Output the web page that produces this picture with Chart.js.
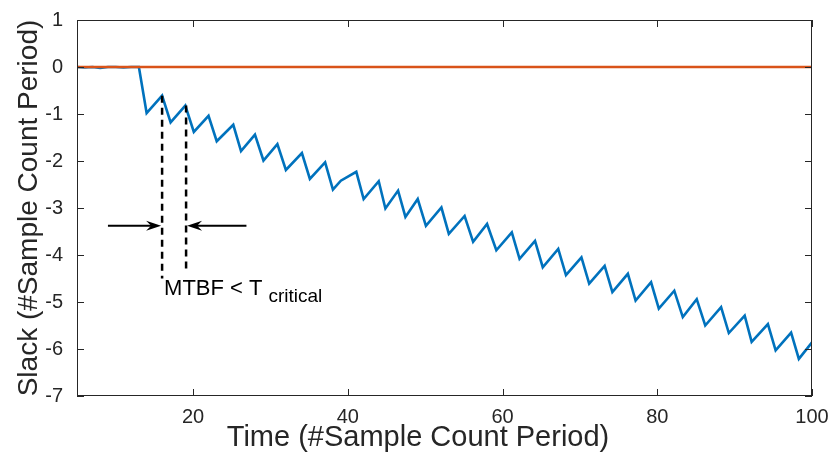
<!DOCTYPE html>
<html>
<head>
<meta charset="utf-8">
<script src="https://cdn.jsdelivr.net/npm/chart.js@4.4.1/dist/chart.umd.min.js"></script>
<style>
  html, body { margin: 0; padding: 0; background: #fff; }
</style>
</head>
<body>
<canvas id="slackChart" width="831" height="461"></canvas>
<script>
// datos
const TIME = [5, 6, 7, 8, 9, 10, 11, 12, 13,
  14, 16, 17.1, 19, 20.1, 22, 23.06, 25.2, 26.2, 28, 29.1, 30.9, 32, 34.07, 35.1,
  37.07, 38.08, 39.1, 41.1, 42.05, 44, 44.86, 46.5, 47.45, 49.04, 50.1, 52.1, 53.06,
  55.1, 56.2, 58, 59.2, 61.2, 62.2, 64.2, 65.2, 67.2, 68.2, 70.2, 71.2, 73.2, 74.2,
  76.2, 77.2, 79.2, 80.2, 82.2, 83.3, 85.1, 86.2, 88.25, 89.25, 91.3, 92.2, 94.3,
  95.3, 97.3, 98.3, 100];
const SLACK = [0, -0.01, 0, -0.02, 0, 0, -0.01, 0, 0,
  -0.98, -0.61, -1.18, -0.82, -1.38, -1.04, -1.58, -1.23, -1.79, -1.44, -1.99, -1.64, -2.19, -1.83, -2.38,
  -2.03, -2.61, -2.42, -2.23, -2.81, -2.43, -3.01, -2.63, -3.19, -2.81, -3.38, -2.99, -3.55,
  -3.17, -3.72, -3.34, -3.9, -3.52, -4.08, -3.70, -4.26, -3.87, -4.43, -4.05, -4.61, -4.23, -4.79,
  -4.40, -4.97, -4.58, -5.14, -4.76, -5.32, -4.94, -5.50, -5.11, -5.66, -5.29, -5.85, -5.47,
  -6.03, -5.65, -6.21, -5.86];
const REF_TIME  = [5, 100];
const REF_SLACK = [0, 0];

const X_TICKS = [20, 40, 60, 80, 100];
const Y_TICKS = [1, 0, -1, -2, -3, -4, -5, -6, -7];
const X_TITLE = 'Time (#Sample Count Period)';
const Y_TITLE = 'Slack (#Sample Count Period)';

// anotación MTBF
const MARK_X      = [16, 19.1];
const MARK_TOP    = [-0.61, -0.82];
const MARK_BOTTOM = [-4.5, -4.38];
const ARROW_Y     = -3.38;
const ARROW_START = [9, 26.9];

const AXIS_COLOR = '#262626';
const FONT = '"Liberation Sans", Arial, Helvetica, sans-serif';

const toPoints = (xs, ys) => xs.map((x, i) => ({ x, y: ys[i] }));

// caja, ticks hacia dentro, título X y anotaciones
const decor = {
  id: 'decor',
  afterDraw(chart) {
    const { ctx, chartArea: a, scales: { x, y } } = chart;
    ctx.save();
    ctx.strokeStyle = AXIS_COLOR;
    ctx.lineWidth = 1;
    ctx.strokeRect(a.left + 0.5, a.top + 0.5, a.right - a.left - 1, a.bottom - a.top - 1);
    ctx.beginPath();
    X_TICKS.forEach(v => {
      const px = Math.round(x.getPixelForValue(v)) + 0.5;
      ctx.moveTo(px, a.bottom); ctx.lineTo(px, a.bottom - 7);
      ctx.moveTo(px, a.top); ctx.lineTo(px, a.top + 7);
    });
    Y_TICKS.forEach(v => {
      const py = Math.round(y.getPixelForValue(v)) + 0.5;
      ctx.moveTo(a.left, py); ctx.lineTo(a.left + 7, py);
      ctx.moveTo(a.right, py); ctx.lineTo(a.right - 7, py);
    });
    ctx.stroke();

    // título del eje X (algo desplazado a la izquierda en el original)
    ctx.fillStyle = AXIS_COLOR;
    ctx.font = '29px ' + FONT;
    ctx.textAlign = 'center';
    ctx.textBaseline = 'middle';
    ctx.fillText(X_TITLE, 418, 438);
    ctx.textAlign = 'left';

    // líneas discontinuas
    ctx.strokeStyle = '#000';
    ctx.lineWidth = 2.5;
    ctx.setLineDash([7, 5]);
    MARK_X.forEach((v, i) => {
      const px = x.getPixelForValue(v);
      ctx.beginPath();
      ctx.moveTo(px, y.getPixelForValue(MARK_TOP[i]));
      ctx.lineTo(px, y.getPixelForValue(MARK_BOTTOM[i]));
      ctx.stroke();
    });
    ctx.setLineDash([]);

    // flechas
    const ay = y.getPixelForValue(ARROW_Y);
    ctx.lineWidth = 2;
    ctx.fillStyle = '#000';
    ARROW_START.forEach((v, i) => {
      const x0 = x.getPixelForValue(v);
      const tip = x.getPixelForValue(MARK_X[i]) + (i === 0 ? -1 : 1);
      const dir = Math.sign(tip - x0);
      ctx.beginPath();
      ctx.moveTo(x0, ay); ctx.lineTo(tip - dir * 6, ay);
      ctx.stroke();
      ctx.beginPath();
      ctx.moveTo(tip, ay);
      ctx.lineTo(tip - dir * 15, ay - 5);
      ctx.lineTo(tip - dir * 10, ay);
      ctx.lineTo(tip - dir * 15, ay + 5);
      ctx.closePath();
      ctx.fill();
    });

    // texto
    ctx.fillStyle = '#000';
    ctx.textBaseline = 'alphabetic';
    ctx.font = '22px ' + FONT;
    const tx = x.getPixelForValue(MARK_X[0]) + 2;
    ctx.fillText('MTBF < T', tx, 295);
    const w = ctx.measureText('MTBF < T').width;
    ctx.font = '19px ' + FONT;
    ctx.fillText('critical', tx + w + 6, 302);
    ctx.restore();
  }
};

new Chart(document.getElementById('slackChart'), {
  type: 'line',
  data: {
    datasets: [
      {
        data: toPoints(REF_TIME, REF_SLACK),
        borderColor: '#D95319',
        borderWidth: 2.6,
        order: 0
      },
      {
        data: toPoints(TIME, SLACK),
        borderColor: '#0072BD',
        borderWidth: 2.6,
        order: 1
      }
    ]
  },
  options: {
    responsive: false,
    animation: false,
    devicePixelRatio: 1,
    layout: { padding: { top: 20, right: 19, left: 0, bottom: 0 } },
    elements: { point: { radius: 0 }, line: { tension: 0 } },
    plugins: { legend: { display: false }, tooltip: { enabled: false } },
    scales: {
      x: {
        type: 'linear',
        min: 5,
        max: 100,
        grid: { display: false, drawTicks: false },
        border: { display: false },
        afterBuildTicks: s => { s.ticks = X_TICKS.map(value => ({ value })); },
        afterFit: s => { s.height = 65; s.paddingLeft = 0; s.paddingRight = 0; },
        ticks: { padding: 9, color: AXIS_COLOR, font: { family: FONT, size: 20 }, maxRotation: 0 },
        title: { display: false }
      },
      y: {
        min: -7,
        max: 1,
        grid: { display: false, drawTicks: false },
        border: { display: false },
        afterBuildTicks: s => { s.ticks = Y_TICKS.map(value => ({ value })); },
        afterFit: s => { s.width = 77; s.paddingTop = 0; s.paddingBottom = 0; },
        ticks: { padding: 14, color: AXIS_COLOR, font: { family: FONT, size: 20 } },
        title: {
          display: true,
          text: Y_TITLE,
          color: AXIS_COLOR,
          font: { family: FONT, size: 28 },
          padding: { top: 12, bottom: 0 }
        }
      }
    }
  },
  plugins: [decor]
});
</script>
</body>
</html>
